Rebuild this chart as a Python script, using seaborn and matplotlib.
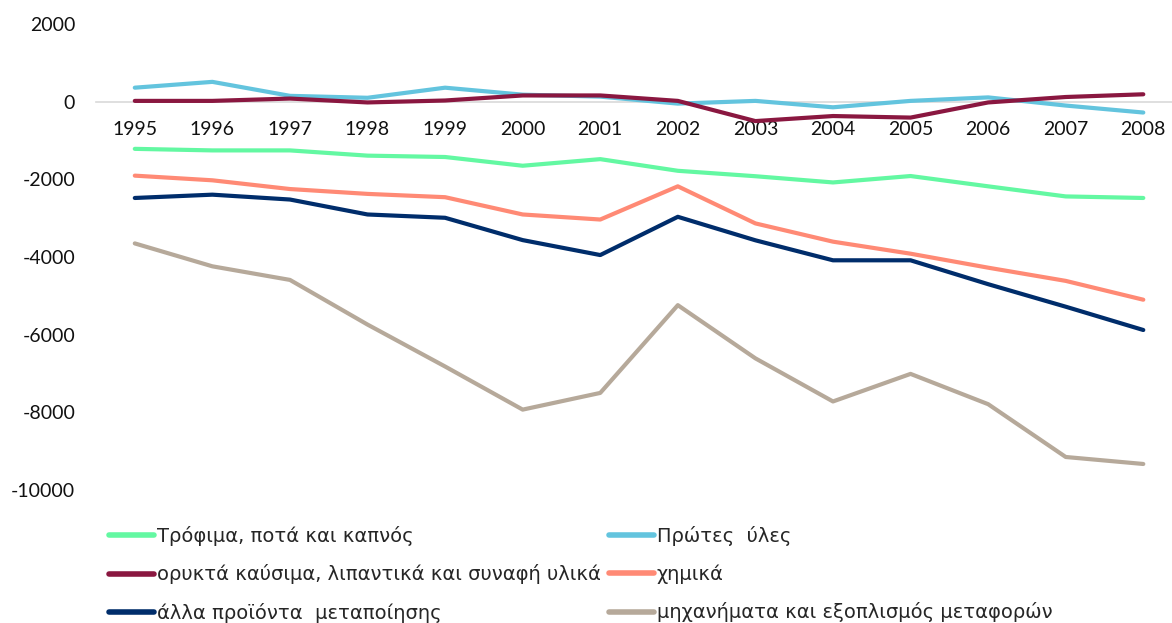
import pandas as pd
import numpy as np
import matplotlib
matplotlib.use("Agg")
import matplotlib.pyplot as plt
import seaborn as sns

# data
years = [str(y) for y in range(1995, 2009)]
food = [-1215, -1255, -1255, -1390, -1425, -1650, -1480, -1780, -1920, -2080, -1915, -2180, -2440, -2480]
raw = [360, 510, 150, 100, 360, 180, 130, -50, 20, -145, 20, 110, -100, -280]
fuels = [20, 20, 80, -20, 30, 160, 160, 20, -500, -370, -410, -20, 120, 190]
chem = [-1905, -2025, -2250, -2375, -2460, -2905, -3035, -2180, -3135, -3605, -3915, -4275, -4615, -5100]
manuf = [-2480, -2395, -2520, -2905, -2990, -3565, -3950, -2965, -3570, -4085, -4085, -4700, -5280, -5880]
machinery = [-3650, -4240, -4590, -5740, -6820, -7930, -7500, -5240, -6610, -7720, -7010, -7790, -9150, -9330]

names = ["Τρόφιμα, ποτά και καπνός", "Πρώτες  ύλες",
         "ορυκτά καύσιμα, λιπαντικά και συναφή υλικά", "χημικά",
         "άλλα προϊόντα  μεταποίησης", "μηχανήματα και εξοπλισμός μεταφορών"]
colors = ["#63F8A2", "#63C4DE", "#8A1740", "#FF8A75", "#002D6B", "#B6A99A"]

df = pd.DataFrame({"year": years * 6,
                   "value": food + raw + fuels + chem + manuf + machinery,
                   "series": np.repeat(names, len(years))})

sns.set_style("white")
plt.rcParams["font.family"] = ["Lato", "DejaVu Sans"]
plt.rcParams["axes.unicode_minus"] = False

fig = plt.figure(figsize=(11.72, 6.23), dpi=100)
ax = fig.add_axes([96 / 1172, 1 - 490 / 623, 1076 / 1172, (490 - 24) / 623])

sns.lineplot(data=df, x="year", y="value", hue="series", palette=dict(zip(names, colors)),
             sort=False, linewidth=3, ax=ax, legend=False)
for l in ax.lines:
    l.set_solid_capstyle("round")

ax.set_xlim(-0.5, 13.37)
ax.set_ylim(-10000, 2000)
ax.set_yticks(range(-10000, 2001, 2000))
ax.set_xlabel("")
ax.set_ylabel("")
for s in ["top", "right", "left"]:
    ax.spines[s].set_visible(False)
ax.spines["bottom"].set_position(("data", 0))
ax.spines["bottom"].set_color("#D9D9D9")
ax.spines["bottom"].set_linewidth(1.2)
ax.spines["bottom"].set_zorder(0)
ax.tick_params(axis="x", length=0, pad=14, labelsize=14, colors="#111111")
ax.tick_params(axis="y", length=0, pad=15, labelsize=14, colors="#111111")

# legend in two columns, row-wise like the original
handles = [plt.Line2D([], [], color=c, lw=4, solid_capstyle="round") for c in colors]
leg_font = {"family": ["DejaVu Sans"], "size": 14}
for i, x0 in enumerate([109 / 1172, 609 / 1172]):
    idx = [i, i + 2, i + 4]
    leg = fig.legend([handles[j] for j in idx], [names[j] for j in idx],
                     loc="upper left", bbox_to_anchor=(x0, 1 - 526 / 623),
                     frameon=False, prop=leg_font, handlelength=2.3,
                     handletextpad=0.15, labelspacing=0.95, borderaxespad=0, borderpad=0)

fig.savefig("out.png", dpi=100)
